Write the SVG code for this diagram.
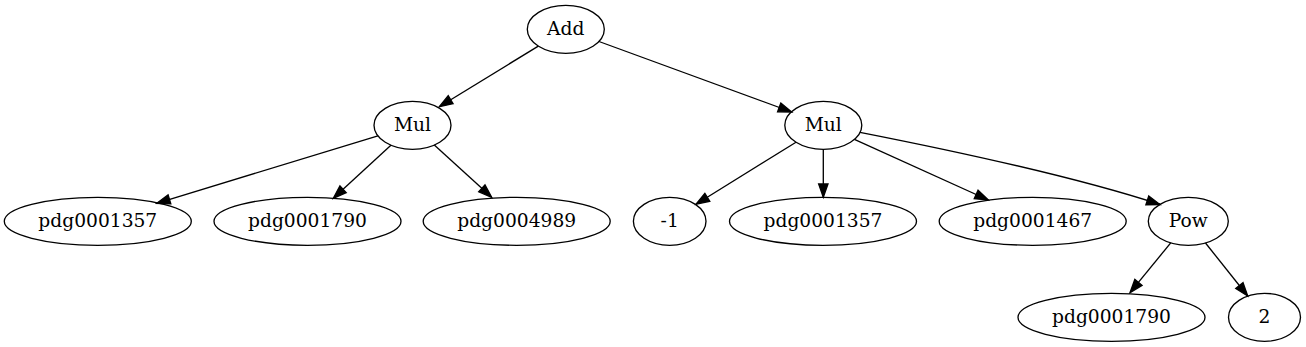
<svg xmlns="http://www.w3.org/2000/svg" width="1306" height="347" viewBox="0 0 1306 347">
<style>
.node ellipse{fill:none;stroke:#000;stroke-width:1.33}
.node text{font-family:"DejaVu Serif",serif;font-size:18.67px;text-anchor:middle;fill:#000}
.edges path{fill:none;stroke:#000;stroke-width:1.33;marker-end:url(#arrow)}
</style>
<defs>
<marker id="arrow" markerUnits="userSpaceOnUse" viewBox="-1 -1 16 12" refX="13.33" refY="4.67" markerWidth="16" markerHeight="12" orient="auto" overflow="visible">
<path d="M0,0 L13.33,4.67 L0,9.33 Z" fill="#000" stroke="#000" stroke-width="1.33"/>
</marker>
</defs>
<rect width="1306" height="347" fill="#fff"/>
<g id="edges" class="edges">
<path d="M538.3,46.1 L439.3,106.7"/>
<path d="M599,41.5 L791.7,112"/>
<path d="M377.9,135.8 L156.7,203.3"/>
<path d="M390.9,145.2 L333.3,198.3"/>
<path d="M434.3,145.1 L491.7,197.3"/>
<path d="M796,142.2 L696,204.3"/>
<path d="M823.3,149.3 L823.3,197.3"/>
<path d="M854.4,139.4 L988.3,200"/>
<path d="M860,132.3 C950,150 1070,175 1160,204.5"/>
<path d="M1170.7,242.9 L1130,292.7"/>
<path d="M1205.5,243 L1247.7,296"/>
</g>
<g id="add" class="node"><ellipse cx="565.8" cy="29.3" rx="38.5" ry="24"/><text x="565.8" y="34.9">Add</text></g>
<g id="mul1" class="node"><ellipse cx="412.5" cy="125.3" rx="38.5" ry="24"/><text x="412.5" y="130.9">Mul</text></g>
<g id="mul2" class="node"><ellipse cx="823.3" cy="125.3" rx="38.5" ry="24"/><text x="823.3" y="130.9">Mul</text></g>
<g id="pdg0001357a" class="node"><ellipse cx="97.8" cy="221.3" rx="93.5" ry="24"/><text x="97.8" y="226.9">pdg0001357</text></g>
<g id="pdg0001790a" class="node"><ellipse cx="307.5" cy="221.3" rx="93.5" ry="24"/><text x="307.5" y="226.9">pdg0001790</text></g>
<g id="pdg0004989" class="node"><ellipse cx="516.7" cy="221.3" rx="93.5" ry="24"/><text x="516.7" y="226.9">pdg0004989</text></g>
<g id="neg1" class="node"><ellipse cx="669.7" cy="221.3" rx="36.3" ry="24"/><text x="669.7" y="226.9">-1</text></g>
<g id="pdg0001357b" class="node"><ellipse cx="823" cy="221.3" rx="93.5" ry="24"/><text x="823" y="226.9">pdg0001357</text></g>
<g id="pdg0001467" class="node"><ellipse cx="1032.7" cy="221.3" rx="93.5" ry="24"/><text x="1032.7" y="226.9">pdg0001467</text></g>
<g id="pow" class="node"><ellipse cx="1188.3" cy="221.3" rx="40" ry="24"/><text x="1188.3" y="226.9">Pow</text></g>
<g id="pdg0001790b" class="node"><ellipse cx="1111.5" cy="317.3" rx="93.5" ry="24"/><text x="1111.5" y="322.9">pdg0001790</text></g>
<g id="two" class="node"><ellipse cx="1264.5" cy="317.3" rx="36" ry="24"/><text x="1264.5" y="322.9">2</text></g>
</svg>
